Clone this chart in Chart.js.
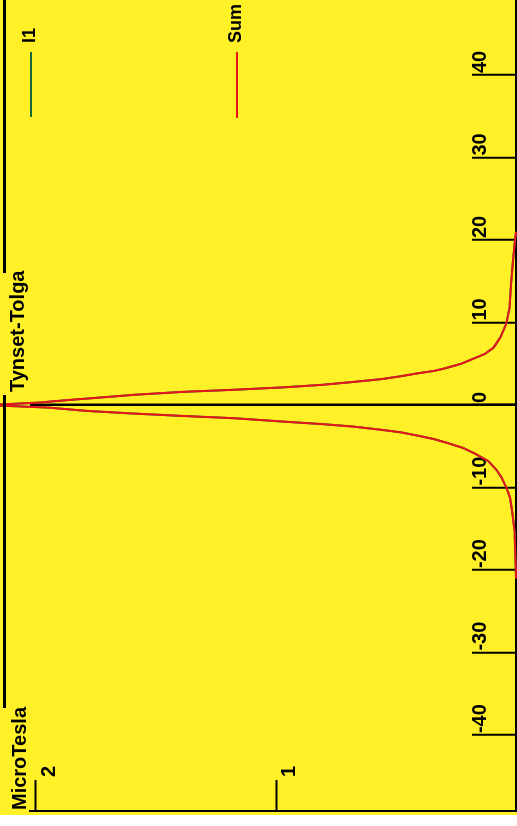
<!DOCTYPE html>
<html><head><meta charset="utf-8">
<script src="https://cdn.jsdelivr.net/npm/chart.js@4.4.0/dist/chart.umd.min.js"></script>
<style>
html,body{margin:0;padding:0;background:#fff;width:517px;height:826px;overflow:hidden;}
#rot{position:absolute;left:0;top:0;width:826px;height:517px;transform-origin:0 0;transform:translateY(826px) rotate(-90deg);background:#fff;}
#cv{position:absolute;left:11px;top:0;width:815px;height:517px;background:#fff028;}
.t{position:absolute;font-family:"Liberation Sans",Arial,sans-serif;font-weight:bold;color:#000;white-space:nowrap;line-height:20px;font-size:20px;}
.lg{font-size:18px;line-height:18px;}
.ln{position:absolute;background:#000;}
</style></head><body>
<div id="rot">
<canvas id="cv" width="815" height="517"></canvas>
<div class="ln" style="left:118px;top:3px;width:313px;height:3px"></div>
<div class="ln" style="left:553px;top:3px;width:273px;height:3px"></div>
<div class="t" style="left:16px;top:9px">MicroTesla</div>
<div class="t" style="left:434px;top:7px">Tynset-Tolga</div>
<div class="ln" style="left:709px;top:30px;width:65px;height:2px;background:#17693a"></div>
<div class="t lg" style="left:783px;top:20px">I1</div>
<div class="ln" style="left:708px;top:236px;width:66px;height:2px;background:#e8141c"></div>
<div class="t lg" style="left:783px;top:226px">Sum</div>
</div>
<script>
// distance from line centre (m) and field values (microtesla)
const distance = [-21, -18.6, -15.2, -13.2, -11.2, -10, -8.8, -7.9, -6.8, -5.9, -5.2, -4.6, -4.1, -3.7, -3.3, -3.0, -2.6, -2.3, -2.0, -1.6, -1.3, -1.0, -0.7, -0.3, 0, 0.3, 0.6, 0.9, 1.25, 1.6, 1.85, 2.15, 2.45, 2.8, 3.15, 3.5, 3.85, 4.15, 4.5, 5.0, 5.6, 6.2, 6.95, 8.2, 9.9, 11.8, 14.6, 17.5, 20, 21];
const sumField = [0, 0.002, 0.006, 0.015, 0.025, 0.04, 0.06, 0.08, 0.115, 0.17, 0.22, 0.285, 0.345, 0.41, 0.48, 0.56, 0.68, 0.81, 0.97, 1.17, 1.40, 1.61, 1.79, 1.95, 2.2, 1.99, 1.87, 1.74, 1.59, 1.39, 1.18, 0.97, 0.81, 0.68, 0.56, 0.48, 0.41, 0.34, 0.29, 0.23, 0.18, 0.13, 0.094, 0.065, 0.04, 0.027, 0.021, 0.0125, 0.004, 0];
const i1Field = [0, 0.002, 0.006, 0.015, 0.025, 0.04, 0.06, 0.08, 0.115, 0.17, 0.22, 0.285, 0.345, 0.41, 0.48, 0.56, 0.68, 0.81, 0.97, 1.17, 1.40, 1.61, 1.79, 1.95, 2.2, 1.99, 1.87, 1.74, 1.59, 1.39, 1.18, 0.97, 0.81, 0.68, 0.56, 0.48, 0.41, 0.34, 0.29, 0.23, 0.18, 0.13, 0.094, 0.065, 0.04, 0.027, 0.021, 0.0125, 0.004, 0];
const xTickValues = [-40, -30, -20, -10, 0, 10, 20, 30, 40];
const yTickValues = [1, 2];

const toPoints = vals => distance.map((d, i) => ({x: d, y: vals[i]}));
const font = {family: '"Liberation Sans", Arial, sans-serif', weight: 'bold', size: 20};
const noPad = s => { s.paddingTop = 0; s.paddingBottom = 0; s.paddingLeft = 0; s.paddingRight = 0; };

new Chart(document.getElementById('cv'), {
  type: 'line',
  data: {datasets: [
    {label: 'Sum', data: toPoints(sumField), borderColor: '#e8141c', borderWidth: 2, pointRadius: 0, tension: 0, clip: false, order: 0},
    {label: 'I1', data: toPoints(i1Field), borderColor: '#17693a', borderWidth: 2, pointRadius: 0, tension: 0, clip: false, order: 1}
  ]},
  options: {
    responsive: false, animation: false, devicePixelRatio: 1,
    layout: {autoPadding: false, padding: {left: 4, right: 0, top: 30, bottom: 1}},
    plugins: {legend: {display: false}, tooltip: {enabled: false}, title: {display: false}},
    scales: {
      x: {
        type: 'linear', position: 'bottom', min: -49.2, max: 49.1,
        afterBuildTicks: s => { s.ticks = xTickValues.map(v => ({value: v})); },
        afterFit: s => { s.height = 0; noPad(s); },
        grid: {drawOnChartArea: true, color: c => (c.tick && c.tick.value === 0) ? '#000' : 'rgba(0,0,0,0)', lineWidth: 2.5, tickColor: '#000', tickWidth: 2, tickLength: -44, drawTicks: true},
        border: {display: true, color: '#000', width: 2},
        ticks: {mirror: true, align: 'start', labelOffset: 2, padding: 24, color: '#000', font: font, maxRotation: 0, minRotation: 0, autoSkip: false, callback: v => String(v)}
      },
      y: {
        type: 'linear', position: 'left', min: 0, max: 2.025,
        afterBuildTicks: s => { s.ticks = yTickValues.map(v => ({value: v})); },
        afterFit: s => { s.width = 0; noPad(s); },
        grid: {drawOnChartArea: false, tickColor: '#000', tickWidth: 2, tickLength: -31, drawTicks: true},
        border: {display: true, color: '#000', width: 2},
        ticks: {mirror: true, padding: 34, labelOffset: 13, color: '#000', font: font, autoSkip: false, callback: v => String(v)}
      }
    }
  }
});
</script>
</body></html>
